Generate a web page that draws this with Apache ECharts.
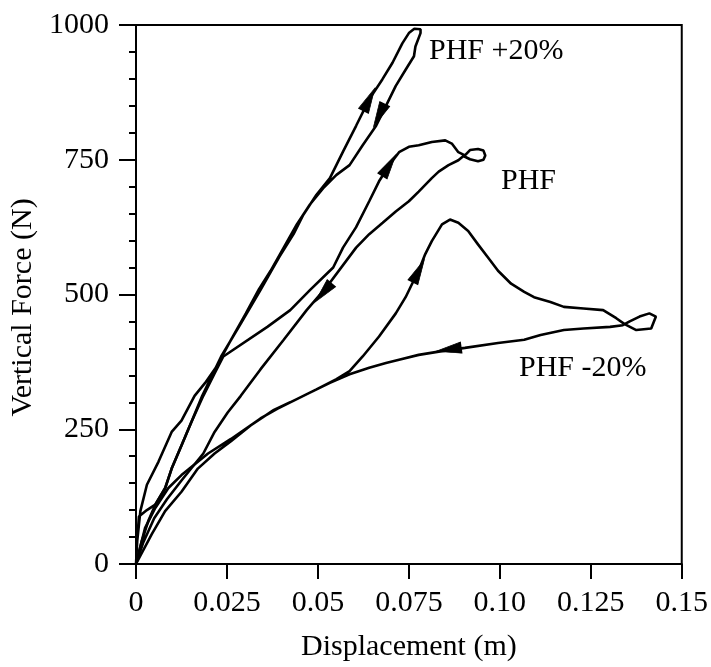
<!DOCTYPE html>
<html><head><meta charset="utf-8">
<script src="https://cdn.jsdelivr.net/npm/echarts@6/dist/echarts.min.js"></script>
<style>html,body{margin:0;padding:0;background:#fff}#c{width:711px;height:667px}</style>
</head><body><div id="c"></div>
<script>
// ---- data ----
const xTickLabels = ['0', '0.025', '0.05', '0.075', '0.10', '0.125', '0.15'];
const yTickLabels = ['0', '250', '500', '750', '1000'];
const xName = 'Displacement (m)';
const yName = 'Vertical Force (N)';
const seriesNames = ['PHF +20%', 'PHF', 'PHF -20%'];

// each loop: loading branch then unloading branch, [displacement m, force N]
const plus20Loop = [
  [0,0],[0.0004,50],[0.0008,88],[0.003,100],[0.0053,110],[0.008,140],[0.0098,177],[0.0125,220],
  [0.0152,263],[0.0182,312],[0.0234,385],[0.0288,446],[0.0342,508],[0.0372,544],[0.0394,570],
  [0.0433,612],[0.046,648],[0.0496,685],[0.0533,716],[0.0569,765],[0.0605,813],[0.0641,862],
  [0.0677,899],[0.0705,930],[0.0732,966],[0.075,985],[0.0765,993],[0.0782,992],
  [0.0782,985],[0.0768,960],[0.0764,942],[0.0741,917],[0.0714,887],[0.0687,850],[0.066,813],
  [0.0623,777],[0.0587,740],[0.0551,722],[0.0514,697],[0.0478,667],[0.0442,630],[0.0406,587],
  [0.037,544],[0.0338,510],[0.0302,465],[0.0261,416],[0.0222,367],[0.019,336],[0.0161,312],
  [0.0125,266],[0.0098,245],[0.0062,190],[0.003,147],[0.0012,98],[0.0003,40],[0,0]
];
const phfLoop = [
  [0,0],[0.0016,43],[0.0034,80],[0.0053,110],[0.008,141],[0.0098,177],[0.0125,220],[0.0152,263],
  [0.0185,312],[0.0215,352],[0.024,385],[0.0361,440],[0.0424,471],[0.0478,508],[0.0542,550],
  [0.0569,587],[0.0605,625],[0.0641,673],[0.0668,710],[0.0696,740],[0.0723,764],[0.075,774],
  [0.0777,777],[0.0813,783],[0.085,786],[0.0868,780],[0.0886,764],[0.0904,758],[0.0918,768],
  [0.094,770],[0.0955,767],[0.096,758],[0.0955,750],[0.094,747],[0.0918,751],[0.09,757],
  [0.0886,749],[0.0859,740],[0.0832,728],[0.0813,716],[0.0777,691],[0.075,673],[0.0714,654],
  [0.0678,633],[0.0641,612],[0.0605,587],[0.0524,514],[0.0469,471],[0.0406,416],[0.0342,361],
  [0.0288,312],[0.0252,281],[0.0216,245],[0.0185,205],[0.0155,180],[0.0125,155],[0.0085,120],
  [0.005,85],[0.002,40],[0,0]
];
const minus20Loop = [
  [0,0],[0.0025,67],[0.0053,104],[0.0089,141],[0.0125,165],[0.0198,205],[0.0261,232],[0.0342,270],
  [0.0388,288],[0.0442,306],[0.0496,324],[0.0551,343],[0.0587,358],[0.0623,385],[0.0668,422],
  [0.0714,465],[0.0741,495],[0.0759,520],[0.0777,544],[0.0795,575],[0.0813,599],[0.0841,630],
  [0.0863,639],[0.0886,633],[0.0913,618],[0.094,593],[0.0967,569],[0.0995,544],[0.1031,520],
  [0.1067,505],[0.1094,495],[0.1139,486],[0.1176,477],[0.123,474],[0.1284,471],[0.132,456],
  [0.1343,445],[0.1375,434],[0.1416,437],[0.1429,459],[0.1411,465],[0.1384,459],[0.1357,450],
  [0.1338,443],[0.1303,440],[0.123,437],[0.1176,434],[0.1112,425],[0.1067,416],[0.0995,410],
  [0.0904,401],[0.0832,394],[0.0777,388],[0.0723,379],[0.0687,373],[0.0641,364],[0.0587,352],
  [0.0533,336],[0.0478,318],[0.0424,300],[0.0379,286],[0.0315,257],[0.0261,228],[0.0216,205],
  [0.017,177],[0.0125,134],[0.008,98],[0.0043,55],[0,0]
];
// arrow positions on each loop (direction follows the loop path)
const plus20Arrows = [[0.0641,862],[0.0668,832]];
const phfArrows = [[0.0696,740],[0.0514,503]];
const minus20Arrows = [[0.0777,544],[0.0859,398]];

// ---- chart ----
const FONT = '"Liberation Serif", "Times New Roman", serif';
const INK = '#000';
const loops = [plus20Loop, phfLoop, minus20Loop];
const arrowSets = [plus20Arrows, phfArrows, minus20Arrows];
const chart = echarts.init(document.getElementById('c'), null, {renderer: 'canvas'});

const lineSeries = loops.map((loop, i) => ({
  name: seriesNames[i], type: 'line', data: loop, showSymbol: false, symbol: 'none',
  lineStyle: {color: INK, width: 2.6}, z: 2, silent: true, animation: false
}));

const option = {
  animation: false,
  backgroundColor: '#fff',
  grid: {left: 134, right: 25, top: 25, bottom: 97, show: true, borderColor: INK, borderWidth: 2, backgroundColor: 'transparent'},
  xAxis: {
    type: 'value', min: 0, max: 0.15, interval: 0.025,
    name: xName, nameLocation: 'middle', nameGap: 68,
    nameTextStyle: {fontFamily: FONT, fontSize: 30, color: INK},
    axisLine: {show: true, onZero: false, lineStyle: {color: INK, width: 2}},
    axisTick: {show: true, inside: false, length: 15, lineStyle: {color: INK, width: 2}},
    splitLine: {show: false},
    axisLabel: {margin: 24, fontFamily: FONT, fontSize: 30, color: INK,
      formatter: v => xTickLabels[Math.round(v / 0.025)] ?? ''}
  },
  yAxis: {
    type: 'value', min: 0, max: 1000, interval: 250,
    name: yName, nameLocation: 'middle', nameGap: 98,
    nameTextStyle: {fontFamily: FONT, fontSize: 30, color: INK, padding: [0, 26, 0, 0]},
    axisLine: {show: true, onZero: false, lineStyle: {color: INK, width: 2}},
    axisTick: {show: true, inside: false, length: 17, lineStyle: {color: INK, width: 2}},
    minorTick: {show: true, splitNumber: 5, length: 7, lineStyle: {color: INK, width: 2}},
    splitLine: {show: false}, minorSplitLine: {show: false},
    axisLabel: {margin: 27, fontFamily: FONT, fontSize: 30, color: INK,
      formatter: v => yTickLabels[Math.round(v / 250)] ?? ''}
  },
  graphic: [
    {type: 'text', left: 429, top: 36, style: {text: seriesNames[0], font: '30px ' + FONT, fill: INK}},
    {type: 'text', left: 501, top: 166, style: {text: seriesNames[1], font: '30px ' + FONT, fill: INK}},
    {type: 'text', left: 519, top: 353, style: {text: seriesNames[2], font: '30px ' + FONT, fill: INK}}
  ],
  series: lineSeries
};
chart.setOption(option);

// arrows: orient along nearest path segment (in pixel space)
function arrowData(loop, arrows) {
  const pts = loop.map(p => chart.convertToPixel({gridIndex: 0}, p));
  return arrows.map(a => {
    const q = chart.convertToPixel({gridIndex: 0}, a);
    let best = 0, bd = Infinity;
    for (let k = 0; k < pts.length - 1; k++) {
      const [x1, y1] = pts[k], [x2, y2] = pts[k + 1];
      const dx = x2 - x1, dy = y2 - y1, L = dx * dx + dy * dy || 1;
      let t = ((q[0] - x1) * dx + (q[1] - y1) * dy) / L; t = Math.max(0, Math.min(1, t));
      const ex = x1 + t * dx - q[0], ey = y1 + t * dy - q[1], d = ex * ex + ey * ey;
      if (d < bd) { bd = d; best = k; }
    }
    const [x1, y1] = pts[best], [x2, y2] = pts[best + 1];
    const ang = Math.atan2(-(y2 - y1), x2 - x1) * 180 / Math.PI;
    return {value: a, symbolRotate: ang - 90};
  });
}
const arrowSeries = arrowSets.map((arr, i) => ({
  name: seriesNames[i] + ' arrows', type: 'scatter', data: arrowData(loops[i], arr),
  symbol: 'path://M0,-12L5,12L-5,12Z', symbolSize: [11, 25],
  itemStyle: {color: INK, borderColor: INK, borderWidth: 1, opacity: 1}, z: 3, silent: true, animation: false
}));
chart.setOption({series: lineSeries.concat(arrowSeries)});
</script>
</body></html>
